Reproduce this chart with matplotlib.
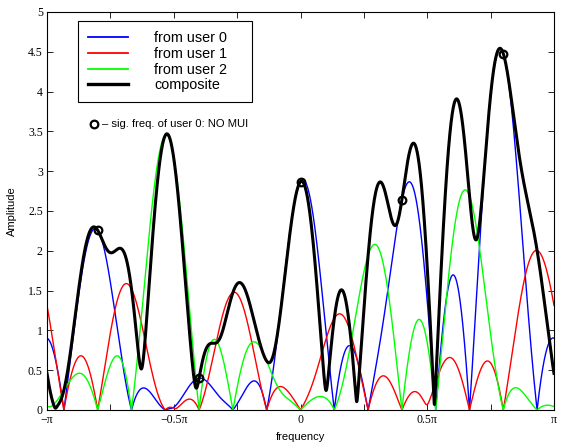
import numpy as np
import matplotlib
matplotlib.use('Agg')
import matplotlib.pyplot as plt
from matplotlib.lines import Line2D

N = 15  # DFT size: subcarriers sit on multiples of 2*pi/N

# subcarrier indices, magnitudes and phases (deg) for each user
user0_bins = [-6, -3, 0, 3, 6]
user0_mag = [2.258, 0.400, 2.868, 2.642, 4.477]
user0_phase = [0.0, 116.7, -47.4, 175.3, 108.8]

user1_bins = [-5, -2, 1, 4, 7]
user1_mag = [1.521, 1.476, 1.153, 0.348, 2.004]
user1_phase = [101.7, -43.0, 109.7, -46.6, 20.6]

user2_bins = [-7, -4, -1, 2, 5]
user2_mag = [0.249, 3.451, 0.614, 1.942, 2.689]
user2_phase = [-57.3, -92.7, -88.5, -83.3, -109.6]

labels = ['from user 0', 'from user 1', 'from user 2', 'composite']
colors = ['#0000ff', '#ff0000', '#00ff00', 'k']
xtick_labels = ['\u2212\u03c0', '', '\u22120.5\u03c0', '', '0', '', '0.5\u03c0', '', '\u03c0']


def dirichlet(w, k):
    # periodic sinc centred on subcarrier k
    x = w - 2 * np.pi * k / N
    s = np.sin(x / 2)
    out = np.ones_like(x)
    m = np.abs(s) > 1e-12
    out[m] = np.sin(N * x[m] / 2) / (N * s[m])
    return out


def spectrum(w, bins, mag, phase):
    X = np.zeros_like(w, dtype=complex)
    for k, a, p in zip(bins, mag, phase):
        X += a * np.exp(1j * np.radians(p)) * dirichlet(w, k)
    return X


w = np.linspace(-np.pi, np.pi, 3001)
X0 = spectrum(w, user0_bins, user0_mag, user0_phase)
X1 = spectrum(w, user1_bins, user1_mag, user1_phase)
X2 = spectrum(w, user2_bins, user2_mag, user2_phase)
Xc = X0 + X1 + X2

# composite at the signal frequencies of user 0
w0 = 2 * np.pi * np.array(user0_bins) / N
Xc0 = (spectrum(w0, user0_bins, user0_mag, user0_phase)
       + spectrum(w0, user1_bins, user1_mag, user1_phase)
       + spectrum(w0, user2_bins, user2_mag, user2_phase))

plt.rcParams['font.family'] = 'Liberation Sans'
fig = plt.figure(figsize=(5.64, 4.43), dpi=100)
ax = fig.add_axes([47 / 564, 33 / 443, 507 / 564, 398 / 443])

ax.plot(w, np.abs(X0), color=colors[0], lw=1.0)
ax.plot(w, np.abs(X1), color=colors[1], lw=1.0)
ax.plot(w, np.abs(X2), color=colors[2], lw=1.0)
ax.plot(w, np.abs(Xc), color='k', lw=2.2)
ax.plot(w0, np.abs(Xc0), 'o', mfc='none', mec='k', mew=1.6, ms=5.5)

ax.set_xlim(-np.pi, np.pi)
ax.set_ylim(0, 5)
ax.set_xticks(np.linspace(-np.pi, np.pi, 9))
ax.set_xticklabels(xtick_labels, family='Liberation Serif', fontsize=8.5)
ax.set_yticks(np.arange(0, 5.01, 0.5))
ax.set_yticklabels(['%g' % v for v in np.arange(0, 5.01, 0.5)], family='Liberation Serif', fontsize=8.5)
ax.tick_params(direction='in', top=True, right=True, length=4, width=0.6, pad=3)
for sp in ax.spines.values():
    sp.set_linewidth(0.8)
ax.set_xlabel('frequency', fontsize=8, labelpad=4)
ax.set_ylabel('Amplitude', fontsize=8, labelpad=8)

handles = [Line2D([], [], color=c, lw=1.3 if c != 'k' else 2.4) for c in colors]
leg = ax.legend(handles, labels, loc='upper left', bbox_to_anchor=(0.061, 0.5, 0.343, 0.477),
                mode='expand', borderaxespad=0, fontsize=10.4, frameon=True, fancybox=False,
                edgecolor='k', framealpha=1, handlelength=2.78, handletextpad=1.8,
                labelspacing=0.115, borderpad=0.7)
leg.get_frame().set_linewidth(0.8)

ax.plot([0.0927], [0.7186], 'o', mfc='none', mec='k', mew=1.6, ms=5.5,
        transform=ax.transAxes, clip_on=False)
ax.text(0.108, 0.7186, '\u2013 sig. freq. of user 0: NO MUI', transform=ax.transAxes,
        fontsize=8.1, va='center', ha='left')

fig.savefig('out.png', dpi=100)
